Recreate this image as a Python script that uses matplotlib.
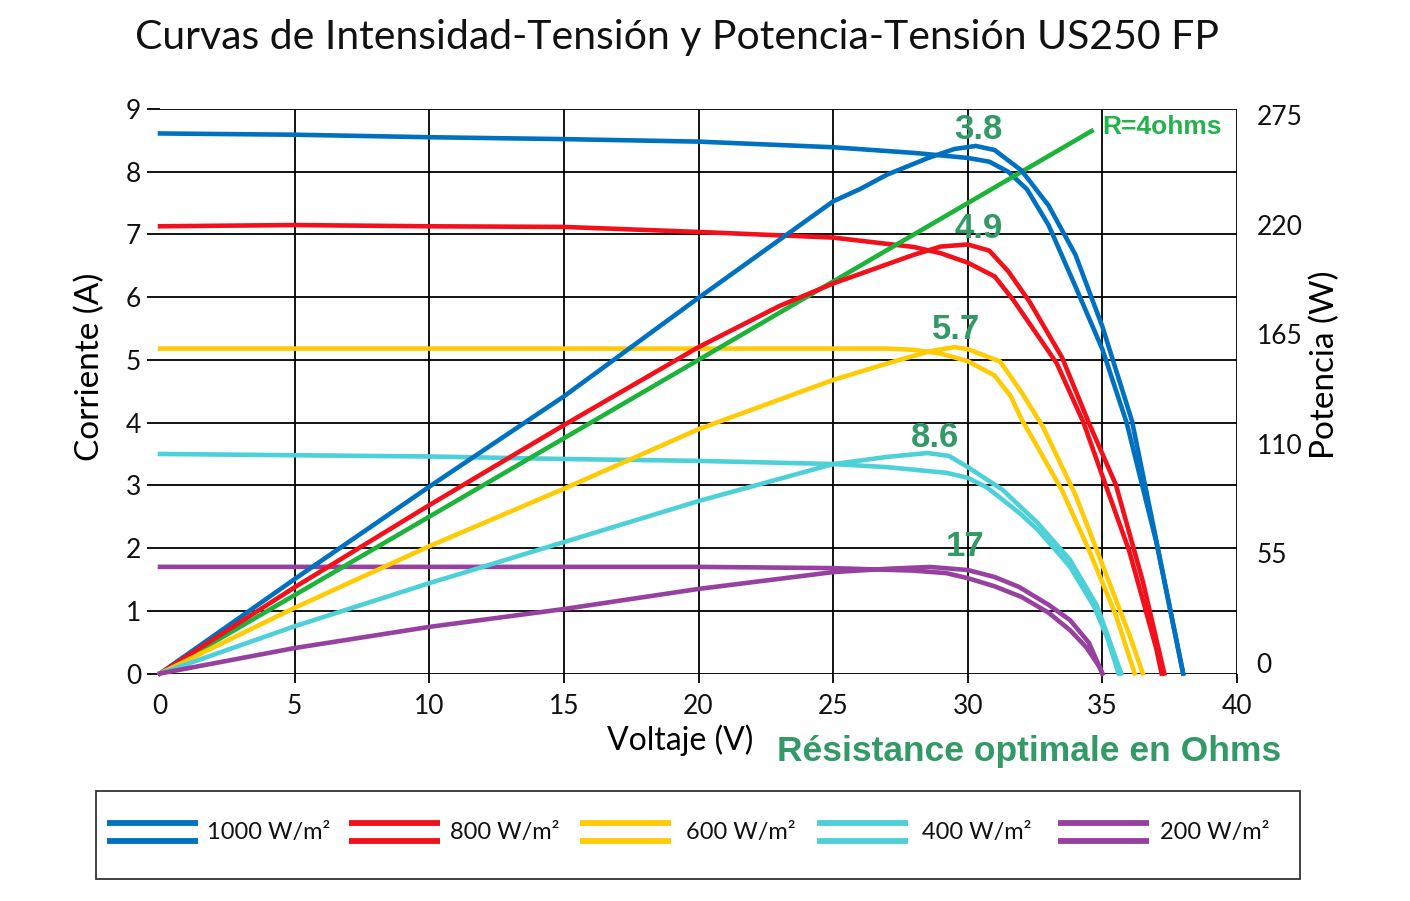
import matplotlib.pyplot as plt
from matplotlib.patches import Rectangle

# I-V and P-V curves (V in volts, I in amps, P in watts)
v_1000_i = [0, 5, 10, 15, 20, 25, 28, 30, 30.8, 31.5, 32.2, 33, 34, 35, 35.9, 37, 38]
i_1000 = [8.61, 8.59, 8.55, 8.52, 8.48, 8.39, 8.30, 8.22, 8.16, 8.0, 7.72, 7.15, 6.17, 5.17, 4.0, 2.1, 0]
v_1000_p = [0, 5, 10, 15, 20, 25, 26, 27, 28.5, 29.5, 30.3, 31, 32, 33, 34, 35, 36.1, 37, 38]
p_1000 = [0, 46, 91, 135, 183, 230, 236, 243, 251, 255.5, 257, 255, 245, 228, 204, 169, 123, 65, 0]

v_800_i = [0, 5, 10, 15, 20, 25, 28, 29, 30, 31, 31.7, 32.5, 33.3, 34.3, 35, 36, 37, 37.2]
i_800 = [7.13, 7.15, 7.13, 7.12, 7.04, 6.95, 6.80, 6.70, 6.55, 6.33, 5.95, 5.45, 4.95, 4.0, 3.15, 1.95, 0.4, 0]
v_800_p = [0, 5, 10, 15, 20, 23, 25, 26.5, 28, 29, 30, 30.8, 31.5, 32.3, 33.5, 34.5, 35.5, 36.5, 37.3]
p_800 = [0, 42, 82, 121, 159, 179, 190, 197, 204, 208, 209, 206, 196, 181, 154, 122, 92, 45, 0]

v_600_i = [0, 5, 10, 15, 20, 25, 27, 28, 29, 30, 31, 31.6, 32, 32.5, 33.5, 34.5, 35.5, 36.2]
i_600 = [5.18, 5.18, 5.18, 5.18, 5.18, 5.18, 5.18, 5.16, 5.10, 4.98, 4.75, 4.42, 4.05, 3.68, 2.92, 1.97, 0.93, 0]
v_600_p = [0, 5, 10, 15, 20, 25, 27, 28.6, 29.5, 30, 30.6, 31.2, 32, 32.8, 34, 35, 36, 36.5]
p_600 = [0, 32, 62, 90, 119, 143, 151, 157, 159, 158, 155, 152, 137, 120, 87, 53, 19, 0]

v_400_i = [0, 5, 10, 15, 20, 25, 27, 29.2, 30, 30.7, 31.3, 32, 32.6, 33.2, 33.8, 34.7, 35.2, 35.6]
i_400 = [3.50, 3.48, 3.46, 3.42, 3.39, 3.34, 3.29, 3.20, 3.12, 2.97, 2.77, 2.53, 2.29, 2.0, 1.70, 1.06, 0.55, 0]
v_400_p = [0, 5, 10, 15, 20, 25, 27, 28.5, 29.3, 30, 31.3, 32.6, 33.8, 34.8, 35.7]
p_400 = [0, 23, 44, 64, 84, 102, 105.5, 107.4, 106, 100.6, 89.4, 73.3, 55.3, 33, 0]

v_200_i = [0, 5, 10, 15, 20, 25, 28, 29.2, 30, 31, 32, 33, 33.8, 34.4, 34.9, 35.0]
i_200 = [1.70, 1.70, 1.70, 1.70, 1.70, 1.68, 1.64, 1.60, 1.52, 1.39, 1.22, 0.97, 0.69, 0.42, 0.10, 0]
v_200_p = [0, 5, 10, 15, 20, 25, 27, 28.6, 30, 31, 31.9, 33, 33.8, 34.5, 35.0]
p_200 = [0, 12.4, 22.7, 31.4, 41.2, 49.4, 51, 51.9, 50.4, 47, 42.2, 33.5, 26, 15, 0]

# load line R = 4 ohm
v_r4 = [0, 34.6]
i_r4 = [0, 8.65]

irradiance = ['1000 W/m²', '800 W/m²', '600 W/m²', '400 W/m²', '200 W/m²']
colours = ['#0070C0', '#F2101A', '#FFCB05', '#4DD0D8', '#9641A0']
opt_res = ['3.8', '4.9', '5.7', '8.6', '17']
opt_pos = [(30.4, 8.68), (30.4, 7.10), (29.55, 5.49), (28.8, 3.77), (29.9, 2.02)]
power_ticks = [0, 55, 110, 165, 220, 275]

iv = [(v_1000_i, i_1000), (v_800_i, i_800), (v_600_i, i_600), (v_400_i, i_400), (v_200_i, i_200)]
pv = [(v_1000_p, p_1000), (v_800_p, p_800), (v_600_p, p_600), (v_400_p, p_400), (v_200_p, p_200)]

plt.rcParams['font.family'] = ['Lato', 'DejaVu Sans']
fig = plt.figure(figsize=(14.1, 9.01), dpi=100)
ax = fig.add_axes([160 / 1410, 1 - 673.5 / 901, 1077 / 1410, 564.5 / 901])
ax2 = ax.twinx()   # power curves
ax3 = ax.twinx()   # power labels (sit a little off the grid in the original)

lw = 3.3
for (v, i), (vp, p), c in zip(iv, pv, colours):
    ax.plot(v, i, color=c, lw=lw, clip_on=False, zorder=3, solid_joinstyle='round')
    ax2.plot(vp, p, color=c, lw=lw, clip_on=False, zorder=3, solid_joinstyle='round')
ax.plot(v_r4, i_r4, color='#1DB33B', lw=lw, clip_on=False, zorder=4)

ax.set_xlim(0, 40)
ax.set_ylim(0, 9)
ax2.set_ylim(0, 275)
ax2.set_yticks([])
ax3.set_ylim(-5.3, 278)
ax3.set_yticks(power_ticks)
for a in (ax, ax2, ax3):
    for s in a.spines.values():
        s.set_visible(False)
ax.set_xticks(range(0, 41, 5))
ax.set_yticks(range(0, 10))
ax.grid(True, color='black', lw=1.3)
ax.set_axisbelow(True)
ax.tick_params(axis='x', length=6.5, width=1.3, pad=8, labelsize=19, labelcolor='#111111')
ax.tick_params(axis='y', length=9.5, width=1.3, pad=4, labelsize=19, labelcolor='#111111')
ax3.tick_params(axis='y', length=0, pad=14, labelsize=19, labelcolor='#111111')
# no grid line / tick at V = 0
ax.xaxis.get_major_ticks()[0].tick1line.set_visible(False)
ax.xaxis.get_major_ticks()[0].gridline.set_visible(False)

for lab, (x, y) in zip(opt_res, opt_pos):
    ax.text(x, y, lab, color='#339966', fontsize=25, fontweight='bold',
            family='Liberation Sans', ha='center', va='center', zorder=5)
ax.text(35.0, 8.72, 'R=4ohms', color='#22B34B', fontsize=19, fontweight='bold',
        family='Liberation Sans', ha='left', va='center', zorder=5)

fig.text(0.480, 0.958, 'Curvas de Intensidad-Tensión y Potencia-Tensión US250 FP',
         ha='center', va='center', fontsize=29.5, color='#111111')
fig.text(90 / 1410, 1 - 367 / 901, 'Corriente (A)', rotation=90,
         ha='center', va='center', fontsize=24)
fig.text(1325 / 1410, 1 - 365 / 901, 'Potencia (W)', rotation=90,
         ha='center', va='center', fontsize=24)
fig.text(680 / 1410, 1 - 740 / 901, 'Voltaje (V)', ha='center', va='center', fontsize=23)
fig.text(777 / 1410, 1 - 752 / 901, 'Résistance optimale en Ohms', color='#339966',
         fontsize=25.5, fontweight='bold', family='Liberation Sans', ha='left', va='center')

# legend drawn in pixel space: two stripes per irradiance, then the label
lg = fig.add_axes([0, 0, 1, 1], zorder=-1)
lg.set_xlim(0, 1410)
lg.set_ylim(901, 0)
lg.axis('off')
lg.add_patch(Rectangle((96, 791), 1204, 88, fill=False, ec='#333333', lw=1.3))
handle_x = [107, 349, 580, 817, 1058]
text_x = [207, 450, 686, 922, 1160]
for hx, tx, c, lab in zip(handle_x, text_x, colours, irradiance):
    for sy in (823, 840.5):
        lg.plot([hx, hx + 91], [sy, sy], color=c, lw=4.2, solid_capstyle='butt')
    lg.text(tx, 832, lab, fontsize=17, ha='left', va='center', color='#111111')

fig.savefig('out.png', dpi=100)
